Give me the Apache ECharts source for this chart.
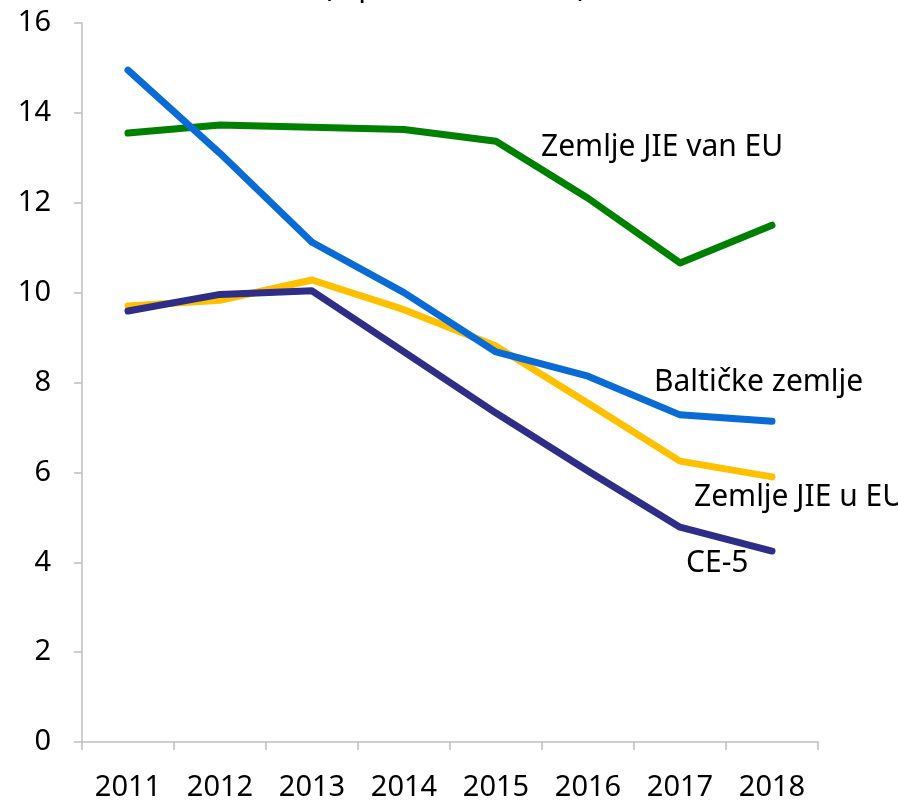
<!DOCTYPE html>
<html>
<head>
<meta charset="utf-8">
<script src="https://cdn.jsdelivr.net/npm/echarts@6/dist/echarts.min.js"></script>
<style>
  html, body { margin: 0; padding: 0; background: #fff; }
  #chart { width: 898px; height: 803px; }
</style>
</head>
<body>
<div id="chart"></div>
<script>
// categories
const years = ['2011', '2012', '2013', '2014', '2015', '2016', '2017', '2018'];

// series values
const jieVanEu = [13.55, 13.73, 13.68, 13.63, 13.37, 12.1, 10.66, 11.5];
const baltic = [14.95, 13.1, 11.12, 10.0, 8.68, 8.14, 7.28, 7.14];
const jieUEu = [9.7, 9.83, 10.28, 9.62, 8.81, 7.54, 6.25, 5.9];
const ce5 = [9.59, 9.96, 10.04, 8.68, 7.32, 6.03, 4.78, 4.25];

// y tick labels
const yTicks = [0, 2, 4, 6, 8, 10, 12, 14, 16];

const FONT = '"Noto Sans", "Open Sans", sans-serif';

// label anchor in data space: [category, value, pixel offset x]
function annot(text, cat, val, dx) {
  return {
    symbol: 'circle',
    symbolSize: 2,
    itemStyle: { color: 'rgba(0,0,0,0)' },
    silent: true,
    data: [{
      coord: [cat, val],
      value: text,
      label: {
        show: true,
        formatter: text,
        position: 'inside',
        align: 'left',
        verticalAlign: 'middle',
        offset: [dx, 0],
        color: '#000',
        fontSize: 30,
        fontFamily: FONT
      }
    }]
  };
}

function line(name, data, color, mark) {
  return {
    name: name,
    type: 'line',
    data: data,
    symbol: 'none',
    lineStyle: { color: color, width: 7, cap: 'round', join: 'round' },
    itemStyle: { color: color },
    markPoint: mark,
    z: 2
  };
}

const chart = echarts.init(document.getElementById('chart'));

chart.setOption({
  animation: false,
  backgroundColor: '#fff',
  title: {
    text: '(u postotku BDP-a)',
    left: 318,
    top: -33,
    textStyle: { fontSize: 30, fontWeight: 'normal', color: '#000', fontFamily: FONT }
  },
  grid: { left: 82, right: 80, top: 23, bottom: 61, containLabel: false },
  xAxis: {
    type: 'category',
    data: years,
    boundaryGap: true,
    axisLine: { lineStyle: { color: '#bfbfbf', width: 1.5 } },
    axisTick: { show: true, length: 8, alignWithLabel: false, lineStyle: { color: '#bfbfbf', width: 1.5 } },
    axisLabel: { color: '#000', fontSize: 29, fontFamily: FONT, margin: 31 }
  },
  yAxis: {
    type: 'value',
    min: yTicks[0],
    max: yTicks[yTicks.length - 1],
    interval: 2,
    splitLine: { show: false },
    axisLine: { show: true, lineStyle: { color: '#bfbfbf', width: 1.5 } },
    axisTick: { show: true, length: 8, lineStyle: { color: '#bfbfbf', width: 1.5 } },
    axisLabel: { color: '#000', fontSize: 29, fontFamily: FONT, margin: 31 }
  },
  series: [
    line('Zemlje JIE van EU', jieVanEu, '#008000', annot('Zemlje JIE van EU', '2015', 13.24, 45)),
    line('Zemlje JIE u EU', jieUEu, '#FFC000', annot('Zemlje JIE u EU', '2017', 5.45, 14)),
    line('Baltičke zemlje', baltic, '#0A6AD6', annot('Baltičke zemlje', '2016', 8.0, 66)),
    line('CE-5', ce5, '#2E2D88', annot('CE-5', '2017', 3.98, 6))
  ]
});
</script>
</body>
</html>
